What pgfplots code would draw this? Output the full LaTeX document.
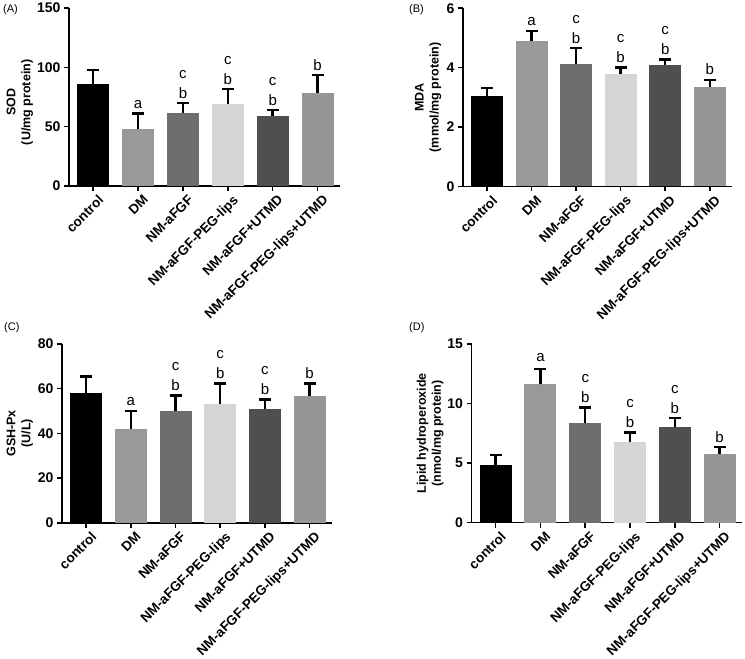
\documentclass[border=0pt]{standalone}
\usepackage{pgfplots}
\pgfplotsset{compat=1.18}
\usepackage{fontspec}
\setmainfont{Liberation Sans}

\definecolor{c0}{HTML}{000000}
\definecolor{c1}{HTML}{999999}
\definecolor{c2}{HTML}{6E6E6E}
\definecolor{c3}{HTML}{D5D5D5}
\definecolor{c4}{HTML}{4F4F4F}
\definecolor{c5}{HTML}{969696}

% letter(s) above an error bar: x, top of error bar, extra shift, text
\newcommand{\lt}[4]{\node[font=\fontsize{15}{15}\selectfont, anchor=base, inner sep=0pt, yshift=#3] at (axis cs:#1,#2) {#4};}

\pgfplotsset{
  panel/.style={
    anchor=south west,
    scale only axis,
    axis lines=left,
    axis line style={-, line width=1.6pt},
    ybar,
    every axis plot post/.append style={bar shift=0pt},
    bar width=32pt,
    xmin=-0.54, xmax=5.5, ymin=0,
    xtick={0,...,5},
    xticklabels={control,DM,NM-aFGF,NM-aFGF-PEG-lips,NM-aFGF+UTMD,NM-aFGF-PEG-lips+UTMD},
    xticklabel style={rotate=45, anchor=north east, inner sep=0pt, yshift=-5pt, xshift=1pt,
      font=\bfseries\fontsize{13.5}{15}\selectfont},
    yticklabel style={font=\bfseries\fontsize{14}{16}\selectfont},
    /pgf/number format/assume math mode=true,
    tick align=outside,
    major tick length=5pt,
    tick style={line width=1.6pt, black},
    ylabel style={font=\bfseries\fontsize{12.5}{15}\selectfont, align=center, anchor=center},
    cycle list={{fill=c0,draw=none},{fill=c1,draw=none},{fill=c2,draw=none},
      {fill=c3,draw=none},{fill=c4,draw=none},{fill=c5,draw=none}},
    error bars/y dir=plus,
    error bars/y explicit,
    error bars/error bar style={line width=2.4pt, black},
    error bars/error mark options={rotate=90, line width=2.4pt, mark size=6pt, black},
    clip=false,
  }
}

\begin{document}
\begin{tikzpicture}
\useasboundingbox (0pt,0pt) rectangle (745pt,659pt);

% (A) SOD
\begin{axis}[panel, at={(69pt,473pt)}, width=271pt, height=178pt,
  ymax=150, ytick={0,50,100,150},
  ylabel={SOD\\(U/mg protein)}, ylabel style={at={(axis description cs:-0.181,0.47)}}]
\addplot coordinates {(0,85.7) +- (0,12.0)};
\addplot coordinates {(1,48.0) +- (0,13.2)};
\addplot coordinates {(2,61.2) +- (0,8.5)};
\addplot coordinates {(3,69.4) +- (0,12.3)};
\addplot coordinates {(4,59.2) +- (0,4.8)};
\addplot coordinates {(5,78.6) +- (0,14.9)};
\lt{1}{61.2}{5pt}{a}
\lt{2}{69.7}{5pt}{b}\lt{2}{69.7}{25pt}{c}
\lt{3}{81.7}{5pt}{b}\lt{3}{81.7}{25pt}{c}
\lt{4}{64.0}{5pt}{b}\lt{4}{64.0}{25pt}{c}
\lt{5}{93.5}{5pt}{b}
\end{axis}

% (B) MDA
\begin{axis}[panel, at={(463pt,472.5pt)}, width=269pt, height=178.2pt,
  ymax=6, ytick={0,2,4,6},
  ylabel={MDA\\(mmol/mg protein)}, ylabel style={at={(axis description cs:-0.130,0.5)}}]
\addplot coordinates {(0,3.06) +- (0,0.26)};
\addplot coordinates {(1,4.89) +- (0,0.35)};
\addplot coordinates {(2,4.14) +- (0,0.52)};
\addplot coordinates {(3,3.80) +- (0,0.21)};
\addplot coordinates {(4,4.10) +- (0,0.17)};
\addplot coordinates {(5,3.35) +- (0,0.24)};
\lt{1}{5.24}{5pt}{a}
\lt{2}{4.66}{5pt}{b}\lt{2}{4.66}{25pt}{c}
\lt{3}{4.01}{5pt}{b}\lt{3}{4.01}{25pt}{c}
\lt{4}{4.27}{5pt}{b}\lt{4}{4.27}{25pt}{c}
\lt{5}{3.59}{5pt}{b}
\end{axis}

% (C) GSH-Px
\begin{axis}[panel, at={(62pt,136.3pt)}, width=270pt, height=178.7pt,
  ymax=80, ytick={0,20,40,60,80},
  ylabel={GSH-Px\\(U/L)}, ylabel style={at={(axis description cs:-0.156,0.5)}}]
\addplot coordinates {(0,57.9) +- (0,7.5)};
\addplot coordinates {(1,41.9) +- (0,8.2)};
\addplot coordinates {(2,50.0) +- (0,6.9)};
\addplot coordinates {(3,53.0) +- (0,9.4)};
\addplot coordinates {(4,50.7) +- (0,4.5)};
\addplot coordinates {(5,56.7) +- (0,5.7)};
\lt{1}{50.1}{5pt}{a}
\lt{2}{56.9}{5pt}{b}\lt{2}{56.9}{25pt}{c}
\lt{3}{62.4}{5pt}{b}\lt{3}{62.4}{25pt}{c}
\lt{4}{55.2}{5pt}{b}\lt{4}{55.2}{25pt}{c}
\lt{5}{62.4}{5pt}{b}
\end{axis}

% (D) Lipid hydroperoxide
\begin{axis}[panel, at={(471.5pt,136.3pt)}, width=270.5pt, height=178.7pt,
  ymax=15, ytick={0,5,10,15},
  ylabel={Lipid hydroperoxide\\(nmol/mg protein)}, ylabel style={at={(axis description cs:-0.153,0.5)}}]
\addplot coordinates {(0,4.84) +- (0,0.84)};
\addplot coordinates {(1,11.62) +- (0,1.28)};
\addplot coordinates {(2,8.34) +- (0,1.32)};
\addplot coordinates {(3,6.80) +- (0,0.76)};
\addplot coordinates {(4,8.06) +- (0,0.71)};
\addplot coordinates {(5,5.74) +- (0,0.59)};
\lt{1}{12.9}{8pt}{a}
\lt{2}{9.66}{5pt}{b}\lt{2}{9.66}{25pt}{c}
\lt{3}{7.56}{5pt}{b}\lt{3}{7.56}{25pt}{c}
\lt{4}{8.77}{5pt}{b}\lt{4}{8.77}{25pt}{c}
\lt{5}{6.33}{5pt}{b}
\end{axis}

\node[font=\fontsize{11}{13}\selectfont, anchor=west, inner sep=0pt] at (3pt,649pt) {(A)};
\node[font=\fontsize{11}{13}\selectfont, anchor=west, inner sep=0pt] at (409pt,649pt) {(B)};
\node[font=\fontsize{11}{13}\selectfont, anchor=west, inner sep=0pt] at (4pt,331pt) {(C)};
\node[font=\fontsize{11}{13}\selectfont, anchor=west, inner sep=0pt] at (409pt,331pt) {(D)};
\end{tikzpicture}
\end{document}
